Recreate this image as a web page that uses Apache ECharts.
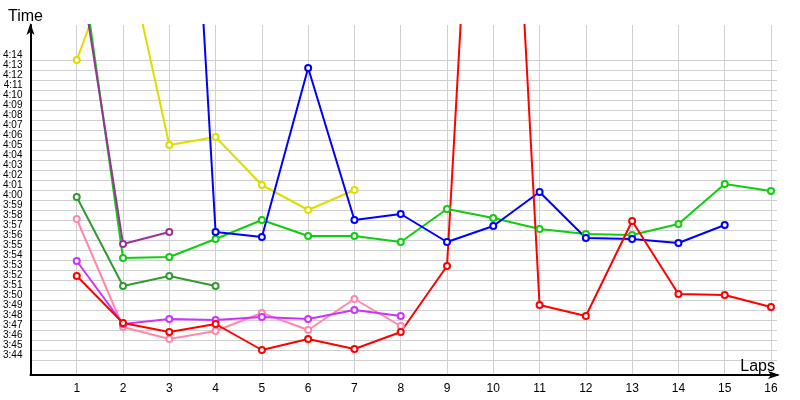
<!DOCTYPE html>
<html>
<head>
<meta charset="utf-8">
<script src="https://cdn.jsdelivr.net/npm/echarts@6/dist/echarts.min.js"></script>
<style>
  html, body { margin: 0; background: #fff; }
  #chart { width: 800px; height: 400px; }
</style>
</head>
<body>
<div id="chart"></div>
<script>
// lap numbers on the x axis
const laps = [1, 2, 3, 4, 5, 6, 7, 8, 9, 10, 11, 12, 13, 14, 15, 16]
// y tick labels (m:ss)
const yTickLabels = ['3:44', '3:45', '3:46', '3:47', '3:48', '3:49', '3:50', '3:51', '3:52', '3:53',
  '3:54', '3:55', '3:56', '3:57', '3:58', '3:59', '4:00', '4:01', '4:02', '4:03', '4:04', '4:05',
  '4:06', '4:07', '4:08', '4:09', '4:10', '4:11', '4:12', '4:13', '4:14']

// lap times in seconds, one value per lap (null = no lap)
const red = [232.4, 227.7, 226.8, 227.6, 225.0, 226.1, 225.1, 226.8, 233.4, 315.5, 229.5, 228.4, 237.9, 230.6, 230.5, 229.3]
const blue = [null, null, 316.5, 236.8, 236.3, 253.2, 238.0, 238.6, 235.8, 237.4, 240.8, 236.2, 236.1, 235.7, 237.5]
const green = [267.0, 234.2, 234.3, 236.1, 238.0, 236.4, 236.4, 235.8, 239.1, 238.2, 237.1, 236.6, 236.5, 237.6, 241.6, 240.9]
const purple = [265.2, 235.6, 236.8]
const yellow = [254.0, 266.5, 245.5, 246.3, 241.5, 239.0, 241.0]
const darkGreen = [240.3, 231.4, 232.4, 231.4]
const pink = [238.1, 227.3, 226.1, 226.9, 228.7, 227.0, 230.1, 227.4]
const violet = [233.9, 227.6, 228.1, 228.0, 228.3, 228.1, 229.0, 228.4]

function toSec(s) {
  const p = s.split(':')
  return +p[0] * 60 + +p[1]
}
function fmt(v) {
  const m = Math.floor(v / 60)
  const s = Math.round(v - m * 60)
  return m + ':' + (s < 10 ? '0' : '') + s
}
function pairs(arr) {
  return arr.map((v, i) => (v == null ? null : [laps[i], v])).filter(Boolean)
}
function line(name, color, arr) {
  return {
    name: name,
    type: 'line',
    z: 3,
    data: pairs(arr),
    symbol: 'emptyCircle',
    symbolSize: 6,
    color: color,
    lineStyle: { width: 2, color: color },
    itemStyle: { color: color, borderColor: color, borderWidth: 1 },
    animation: false,
  }
}

const yTicks = yTickLabels.map(toSec)
const font = 'Liberation Sans'

const chart = echarts.init(document.getElementById('chart'))
chart.setOption({
  backgroundColor: '#fff',
  animation: false,
  grid: { left: 30, right: 23, top: 25, bottom: 25, containLabel: false },
  xAxis: {
    type: 'value',
    min: 0,
    max: 16.13,
    interval: 1,
    name: 'Laps',
    nameLocation: 'end',
    nameGap: -2,
    nameTextStyle: { fontFamily: font, fontSize: 16, color: '#000', align: 'right', verticalAlign: 'bottom' },
    axisLine: { show: true, onZero: false, symbol: ['none', 'arrow'], symbolSize: [6, 12], symbolOffset: [0, 3], lineStyle: { color: '#000', width: 2 } },
    axisTick: { show: false },
    axisLabel: { customValues: laps, margin: 8, fontFamily: font, fontSize: 12, color: '#000' },
    splitLine: { show: true, showMinLine: false, showMaxLine: false, lineStyle: { color: '#d0d0d0', width: 1 } },
  },
  yAxis: {
    type: 'value',
    min: 222.5,
    max: 257.5,
    name: 'Time',
    nameLocation: 'end',
    nameGap: 0,
    nameTextStyle: { fontFamily: font, fontSize: 16, color: '#000', padding: [0, 10, 0, 0] },
    axisLine: { show: true, onZero: false, symbol: ['none', 'arrow'], symbolSize: [6, 12], symbolOffset: [0, 2], lineStyle: { color: '#000', width: 2 } },
    axisTick: { show: false, customValues: yTicks },
    axisLabel: {
      customValues: yTicks,
      margin: 8,
      fontFamily: font,
      fontSize: 10,
      color: '#000',
      verticalAlign: 'bottom',
      formatter: fmt,
    },
    splitLine: { show: false },
  },
  series: [
    {
      // horizontal grid lines at each labelled second
      name: 'grid',
      type: 'line',
      z: 0,
      data: [],
      silent: true,
      markLine: {
        z: 0,
        silent: true,
        symbol: 'none',
        animation: false,
        label: { show: false },
        lineStyle: { color: '#d0d0d0', width: 1, type: 'solid' },
        data: yTicks.map((v) => ({ yAxis: v })),
      },
    },
    line('Dark green', '#339933', darkGreen),
    line('Pink', '#ff88aa', pink),
    line('Violet', '#cc33ff', violet),
    line('Yellow', '#dddd00', yellow),
    line('Green', '#11cc11', green),
    line('Purple', '#993399', purple),
    line('Blue', '#0000ff', blue),
    line('Red', '#ff0000', red),
  ],
})
</script>
</body>
</html>
